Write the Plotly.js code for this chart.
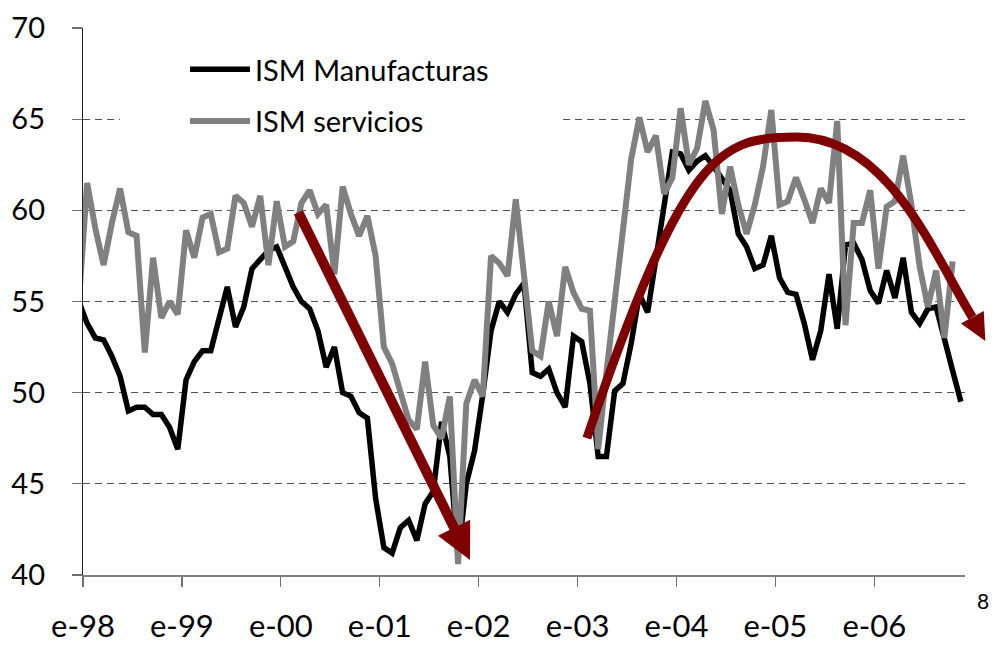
<!DOCTYPE html>
<html>
<head>
<meta charset="utf-8">
<script src="https://cdn.plot.ly/plotly-3.0.1.min.js"></script>
<style>html,body{margin:0;padding:0;background:#fff}#chart{width:996px;height:652px}</style>
</head>
<body>
<div id="chart"></div>
<script>
// ---------- data ----------
const firstMonth = '1997-12';           // first monthly observation
const tickYears = [1998, 1999, 2000, 2001, 2002, 2003, 2004, 2005, 2006];
const tickLabels = ['e-98', 'e-99', 'e-00', 'e-01', 'e-02', 'e-03', 'e-04', 'e-05', 'e-06'];
const yTicks = [40, 45, 50, 55, 60, 65, 70];
const seriesNames = ['ISM Manufacturas', 'ISM servicios'];

// Dec-97 .. Nov-06
const ismManufacturas = [
  55.0,
  53.8, 53.0, 52.9, 52.0, 50.9, 49.0, 49.2, 49.2, 48.8, 48.8, 48.1, 46.9,
  50.7, 51.7, 52.3, 52.3, 54.0, 55.8, 53.6, 54.7, 56.8, 57.3, 57.8, 58.0,
  56.8, 55.8, 55.0, 54.6, 53.4, 51.4, 52.5, 50.0, 49.8, 48.9, 48.6, 44.2,
  41.5, 41.2, 42.6, 43.0, 41.9, 43.9, 44.6, 48.4, 46.5, 41.0, 45.0, 46.8,
  49.9, 53.4, 55.0, 54.4, 55.4, 56.0, 51.1, 50.9, 51.3, 50.0, 49.2, 53.1,
  52.8, 50.5, 46.5, 46.5, 50.1, 50.5, 52.7, 55.4, 54.4, 57.4, 60.3, 63.2,
  63.1, 62.2, 62.7, 63.0, 62.4, 61.7, 61.1, 58.7, 58.0, 56.8, 57.0, 58.6,
  56.3, 55.5, 55.4, 53.8, 51.8, 53.4, 56.5, 53.5, 58.1, 58.2, 57.3, 55.6,
  54.9, 56.7, 55.2, 57.4, 54.4, 53.8, 54.6, 54.7, 52.8, 51.2, 49.5
];
// Dec-97 .. Oct-06
const ismServicios = [
  55.0,
  61.5, 59.0, 57.0, 59.3, 61.2, 58.8, 58.6, 52.2, 57.4, 54.1, 55.0, 54.3,
  58.9, 57.4, 59.6, 59.8, 57.7, 57.9, 60.8, 60.4, 59.1, 60.8, 57.0, 60.5,
  58.0, 58.3, 60.4, 61.1, 59.8, 60.3, 56.5, 61.3, 59.8, 58.6, 59.7, 57.5,
  52.5, 51.6, 50.0, 48.5, 48.0, 51.7, 48.2, 47.5, 49.8, 40.6, 49.4, 50.7,
  49.8, 57.5, 57.1, 56.4, 60.6, 56.4, 52.3, 52.0, 55.0, 53.1, 56.9, 55.5,
  54.6, 54.5, 46.9, 51.1, 55.1, 59.2, 62.8, 65.1, 63.2, 64.1, 60.9, 61.8,
  65.6, 62.5, 63.4, 66.0, 64.4, 59.8, 62.4, 60.3, 58.7, 60.3, 62.4, 65.5,
  60.3, 60.5, 61.8, 60.6, 59.3, 61.2, 60.4, 64.9, 53.7, 59.3, 59.3, 61.1,
  56.8, 60.2, 60.5, 63.0, 60.3, 56.9, 54.7, 56.7, 53.0, 57.2
];

// trend arrows (x = months since Jan-98, y = index level)
const arrowDownFrom = [26.13, 59.89];
const arrowDownTo = [46.95, 40.82];
const arrowArcPts = [[61.13, 47.51], [72.95, 63.28], [77.25, 64.02], [86.58, 64.02],
                     [97.85, 64.02], [103.39, 57.40], [107.89, 54.14]];
const arrowArcTip = [109.47, 52.83];

// ---------- rendering ----------
const FONT = 'Lato, "Open Sans", sans-serif';
const ARROW = '#7f0000';
const M = {l: 83, r: 31, t: 28, b: 77};
const W = 996 - M.l - M.r, H = 652 - M.t - M.b;
const XR = [0, 107], YR = [40, 70];

function monthX(i) {
  const [y, m] = firstMonth.split('-').map(Number);
  return (y - 1998) * 12 + (m - 1) + i + 0.5;
}
const xs = n => Array.from({length: n}, (_, i) => monthX(i));

const toPx = ([m, v]) => [(m - XR[0]) / (XR[1] - XR[0]) * W, (YR[1] - v) / (YR[1] - YR[0]) * H];
const P = ([x, y]) => (x / W).toFixed(5) + ',' + (1 - y / H).toFixed(5);
const sub = (a, b) => [a[0] - b[0], a[1] - b[1]];
const add = (a, b) => [a[0] + b[0], a[1] + b[1]];
const mul = (a, k) => [a[0] * k, a[1] * k];
const unit = a => { const n = Math.hypot(a[0], a[1]); return [a[0] / n, a[1] / n]; };

function headPath(tip, base, halfW) {
  const u = unit(sub(tip, base));
  const p = [-u[1], u[0]];
  return 'M' + P(add(base, mul(p, halfW))) + ' L' + P(tip) + ' L' + P(sub(base, mul(p, halfW))) + ' Z';
}

const shapes = [];
// white legend box (hides the gridline behind the legend, as in the original)
shapes.push({type: 'rect', xref: 'paper', yref: 'paper', layer: 'above',
  x0: (120 - M.l) / W, x1: (560 - M.l) / W, y0: (575 - 150) / H, y1: (575 - 40) / H,
  fillcolor: '#ffffff', line: {width: 0}});

// straight arrow
(function () {
  const a = toPx(arrowDownFrom), tip = toPx(arrowDownTo);
  const u = unit(sub(tip, a));
  const base = sub(tip, mul(u, 36));
  shapes.push({type: 'path', xref: 'paper', yref: 'paper',
    path: 'M' + P(a) + ' L' + P(add(base, mul(u, 3))), line: {color: ARROW, width: 10}});
  shapes.push({type: 'path', xref: 'paper', yref: 'paper',
    path: headPath(tip, base, 18), fillcolor: ARROW, line: {width: 0}});
})();

// arc arrow
(function () {
  const p = arrowArcPts.map(toPx);
  const tip = toPx(arrowArcTip);
  const path = 'M' + P(p[0]) + ' C' + P(p[1]) + ' ' + P(p[2]) + ' ' + P(p[3]) +
               ' C' + P(p[4]) + ' ' + P(p[5]) + ' ' + P(p[6]);
  shapes.push({type: 'path', xref: 'paper', yref: 'paper', path: path,
    line: {color: ARROW, width: 9}, fillcolor: 'rgba(0,0,0,0)'});
  shapes.push({type: 'path', xref: 'paper', yref: 'paper',
    path: headPath(tip, p[6], 13), fillcolor: ARROW, line: {width: 0}});
})();

const traces = [
  {x: xs(ismManufacturas.length), y: ismManufacturas, name: seriesNames[0], legendgroup: 'a',
   type: 'scatter', mode: 'lines', line: {color: '#000000', width: 5.5, shape: 'linear'}},
  {x: xs(ismServicios.length), y: ismServicios, name: seriesNames[1], legendgroup: 'b',
   type: 'scatter', mode: 'lines', line: {color: '#808080', width: 6, shape: 'linear'}}
];

const layout = {
  width: 996, height: 652,
  margin: M,
  paper_bgcolor: '#ffffff', plot_bgcolor: '#ffffff',
  font: {family: FONT, color: '#000000'},
  showlegend: true,
  legend: {x: (185 - M.l) / W, y: (575 - 44) / H, xanchor: 'left', yanchor: 'top',
    itemwidth: 60,
    bgcolor: 'rgba(0,0,0,0)', borderwidth: 0, traceorder: 'grouped', tracegroupgap: 11,
    font: {family: FONT, size: 29, color: '#000000'}},
  xaxis: {
    range: XR, tickmode: 'array',
    tickvals: tickYears.map(y => (y - 1998) * 12), ticktext: tickLabels,
    ticks: 'outside', ticklen: 10, tickcolor: '#707070', tickwidth: 1.2,
    showline: true, linecolor: '#808080', linewidth: 1.5,
    showgrid: false, zeroline: false, fixedrange: true, automargin: false,
    tickfont: {family: FONT, size: 31, color: '#000000'}, ticklabelstandoff: 13
  },
  yaxis: {
    range: YR, tickmode: 'array', tickvals: yTicks, ticktext: yTicks.map(String),
    ticks: 'outside', ticklen: 10, tickcolor: '#707070', tickwidth: 1.2,
    showline: true, linecolor: '#202020', linewidth: 1.2,
    showgrid: true, gridcolor: '#505050', gridwidth: 1, griddash: '7px,5px',
    zeroline: false, fixedrange: true, automargin: false,
    tickfont: {family: FONT, size: 29, color: '#000000'}, ticklabelstandoff: 21
  },
  shapes: shapes,
  annotations: [{xref: 'paper', yref: 'paper', x: (983 - M.l) / W, y: (575 - 600) / H,
    xanchor: 'center', yanchor: 'middle',
    text: '8', showarrow: false, font: {family: FONT, size: 21, color: '#000000'}}]
};

Plotly.newPlot('chart', traces, layout, {displayModeBar: false, staticPlot: true});
</script>
</body>
</html>
